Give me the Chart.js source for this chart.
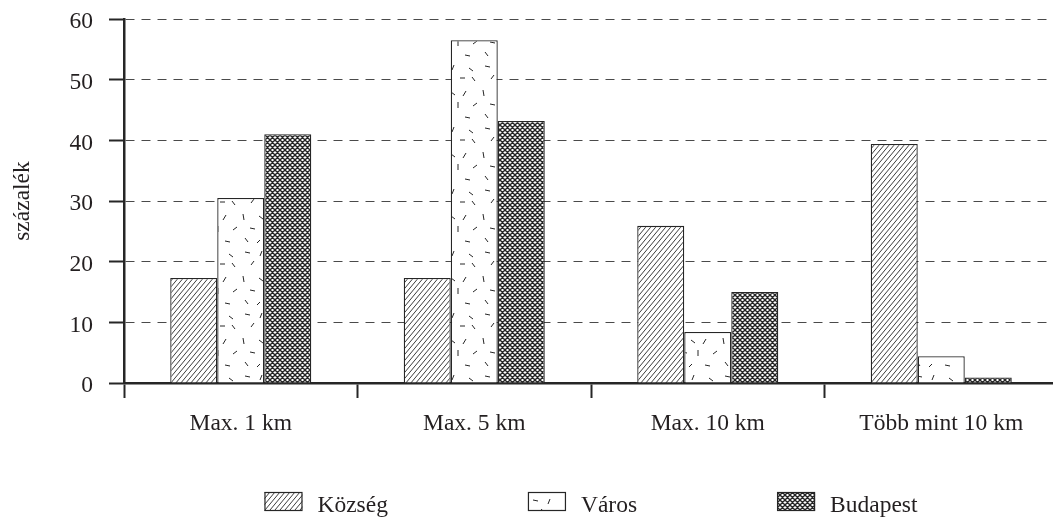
<!DOCTYPE html>
<html lang="hu">
<head>
<meta charset="utf-8">
<title>Távolság szerinti megoszlás</title>
<script src="https://cdn.jsdelivr.net/npm/chart.js@4/dist/chart.umd.min.js"></script>
<style>
  html, body { margin: 0; padding: 0; background: #fff; overflow: hidden; }
  #wrap { width: 1058px; height: 517px; }
</style>
</head>
<body>
<div id="wrap"><canvas id="chart" width="1058" height="517"></canvas></div>
<script>
// ---- data ----
const categories = ['Max. 1 km', 'Max. 5 km', 'Max. 10 km', 'Több mint 10 km'];
const seriesNames = ['Község', 'Város', 'Budapest'];
const kozseg   = [17.3, 17.3, 25.9, 39.4];
const varos    = [30.5, 56.5, 8.4, 4.4];
const budapest = [41.0, 43.2, 15.0, 0.9];
const yTicks = [0, 10, 20, 30, 40, 50, 60];
const yTitle = 'százalék';

// ---- look ----
const INK = '#262626';
const TEXT = '#231f20';
const FAMILY = '"Liberation Serif", "Times New Roman", serif';
const FONT = { family: FAMILY, size: 23.5 };

const canvas = document.getElementById('chart');
const mainCtx = canvas.getContext('2d');

// builds a repeating fill from a small drawn tile
function makePattern(w, h, draw) {
  const c = document.createElement('canvas');
  c.width = w; c.height = h;
  const g = c.getContext('2d');
  g.fillStyle = '#fff';
  g.fillRect(0, 0, w, h);
  g.strokeStyle = INK;
  g.lineCap = 'butt';
  draw(g, w, h);
  return mainCtx.createPattern(c, 'repeat');
}

// single diagonal hatching "/"
const hatchFill = makePattern(5, 6, (g, w, h) => {
  g.lineWidth = 0.9;
  g.beginPath();
  for (let k = -1; k <= 1; k++) {
    g.moveTo(k * w, h);
    g.lineTo(k * w + w, 0);
  }
  g.stroke();
});

// short scattered dashes
const dashStrokes = [
  [5, 4, 5, 1], [22, 3, -2, 5], [37, 6, 4, 3],
  [11, 17, 3, -4], [28, 16, 5, 0], [43, 19, -3, -4],
  [3, 28, 1, 6], [19, 30, 4, 3], [34, 29, -3, 5],
  [10, 42, 5, 1], [26, 40, 0, 6], [41, 44, 4, -3],
  [5, 52, 3, 4], [20, 54, -3, 3], [33, 55, 5, 1]
];
const dashFill = makePattern(48, 62, (g) => {
  g.lineWidth = 1;
  g.beginPath();
  dashStrokes.forEach(([x, y, dx, dy]) => { g.moveTo(x, y); g.lineTo(x + dx, y + dy); });
  g.stroke();
});

// dense cross-hatching
const crossFill = makePattern(5, 5, (g, w, h) => {
  g.lineWidth = 1.4;
  g.beginPath();
  for (let k = -1; k <= 1; k++) {
    g.moveTo(k * w, h); g.lineTo(k * w + w, 0);
    g.moveTo(k * w, 0); g.lineTo(k * w + w, h);
  }
  g.stroke();
});

const fills = [hatchFill, dashFill, crossFill];
const values = [kozseg, varos, budapest];

// legend row drawn under the axis: swatch + label, evenly spaced, centred on the plot
const swatchKey = {
  id: 'swatchKey',
  afterDraw(chart, args, o) {
    const ctx = chart.ctx;
    const { left, right } = chart.chartArea;
    ctx.save();
    ctx.font = `${o.size}px ${FAMILY}`;
    const items = chart.data.datasets.map(ds => ({
      label: ds.label,
      fill: ds.backgroundColor,
      w: o.boxWidth + o.textGap + ctx.measureText(ds.label).width
    }));
    const total = items.reduce((s, it) => s + it.w, 0) + o.itemGap * (items.length - 1);
    let x = (left + right) / 2 - total / 2;
    items.forEach(it => {
      ctx.fillStyle = it.fill;
      ctx.fillRect(x, o.top, o.boxWidth, o.boxHeight);
      ctx.strokeStyle = INK;
      ctx.lineWidth = 1.2;
      ctx.strokeRect(x + 0.5, o.top + 0.5, o.boxWidth - 1, o.boxHeight - 1);
      ctx.fillStyle = TEXT;
      ctx.textBaseline = 'alphabetic';
      ctx.textAlign = 'left';
      ctx.fillText(it.label, x + o.boxWidth + o.textGap, o.baseline);
      x += it.w + o.itemGap;
    });
    ctx.restore();
  }
};

new Chart(canvas, {
  type: 'bar',
  data: {
    labels: categories,
    datasets: seriesNames.map((name, i) => ({
      label: name,
      data: values[i],
      backgroundColor: fills[i],
      borderColor: INK,
      borderWidth: 1.3,
      categoryPercentage: 0.604,
      barPercentage: 1.0
    }))
  },
  options: {
    responsive: false,
    animation: false,
    devicePixelRatio: 1,
    layout: { padding: { top: 0, right: 0, bottom: 0, left: 0 } },
    plugins: {
      legend: { display: false },
      tooltip: { enabled: false },
      swatchKey: { top: 492, boxWidth: 38, boxHeight: 19, textGap: 15, itemGap: 140, baseline: 512, size: 23.5 }
    },
    scales: {
      x: {
        type: 'category',
        offset: true,
        grid: {
          display: true, offset: true, drawOnChartArea: false, drawTicks: true,
          tickLength: 15, tickColor: INK, tickWidth: 2, color: INK
        },
        border: { display: true, color: INK, width: 2.5 },
        ticks: { color: TEXT, font: FONT, padding: 12, maxRotation: 0, autoSkip: false },
        afterFit(s) { s.height = 134; }
      },
      y: {
        min: yTicks[0],
        max: yTicks[yTicks.length - 1],
        afterBuildTicks(s) { s.ticks = yTicks.map(v => ({ value: v })); },
        grid: {
          color: c => (c.tick && c.tick.value === 0) ? 'rgba(0,0,0,0)' : '#4a4a4a',
          lineWidth: 1,
          tickLength: 15, tickColor: INK, tickWidth: 2, tickBorderDash: []
        },
        border: { display: true, color: INK, width: 2.5, dash: [9, 7] },
        ticks: { color: TEXT, font: FONT, padding: 16, labelOffset: 3 },
        title: { display: true, text: yTitle, color: TEXT, font: FONT, padding: { top: 9, bottom: 0 } },
        afterFit(s) { s.width = 124; s.paddingTop = 19; s.paddingBottom = 0; }
      }
    }
  },
  plugins: [swatchKey]
});
</script>
</body>
</html>
